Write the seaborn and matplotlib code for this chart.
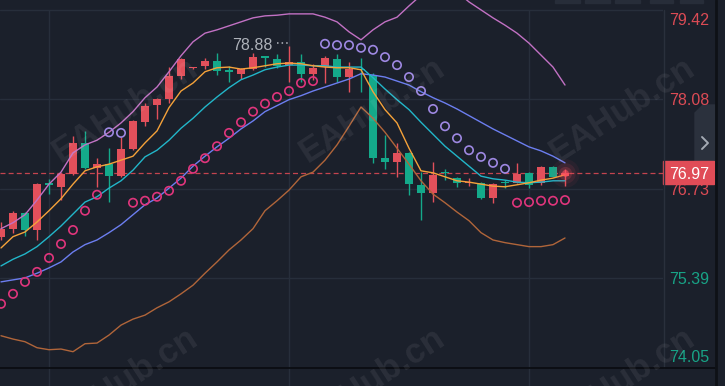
import numpy as np
import pandas as pd
import seaborn as sns
import matplotlib.pyplot as plt
import matplotlib.transforms as mtransforms
from matplotlib.patches import Rectangle, Polygon
from matplotlib.lines import Line2D

# candles, oldest first (red = up, green = down)
opens = [76.01, 76.13, 76.37, 76.11, 76.80, 76.76, 76.95, 77.42, 77.04, 77.10, 76.92, 77.33,
         77.74, 77.99, 78.08, 78.43, 78.54, 78.58, 78.65, 78.50, 78.46, 78.53, 78.71, 78.68,
         78.59, 78.64, 78.46, 78.56, 78.68, 78.41, 78.52, 78.44, 77.19, 77.13, 77.27, 76.79,
         76.67, 76.97, 76.89, 76.81, 76.82, 76.59, 76.82, 76.82, 76.97, 76.82, 77.06, 76.92]
highs = [76.23, 76.40, 76.38, 76.81, 76.88, 76.96, 77.52, 77.60, 77.19, 77.34, 77.51, 77.76,
         78.02, 78.09, 78.56, 78.69, 78.56, 78.70, 78.77, 78.58, 78.54, 78.77, 78.71, 78.76,
         78.88, 78.76, 78.61, 78.72, 78.76, 78.64, 78.70, 78.47, 77.54, 77.42, 77.28, 76.98,
         77.13, 77.03, 76.90, 76.89, 76.83, 76.81, 76.86, 77.12, 76.98, 77.07, 77.07, 77.02]
lows = [75.96, 76.07, 76.02, 75.96, 76.65, 76.56, 76.94, 77.03, 76.76, 76.53, 76.91, 77.32,
        77.67, 77.78, 78.02, 78.38, 78.53, 78.53, 78.44, 78.34, 78.38, 78.52, 78.56, 78.55,
        78.34, 78.34, 78.37, 78.32, 78.34, 78.19, 78.19, 77.12, 77.03, 76.91, 76.64, 76.26,
        76.53, 76.86, 76.76, 76.77, 76.58, 76.52, 76.74, 76.81, 76.74, 76.79, 76.90, 76.77]
closes = [76.13, 76.37, 76.11, 76.80, 76.79, 76.95, 77.42, 77.04, 77.10, 76.92, 77.33, 77.75,
          77.98, 78.08, 78.43, 78.68, 78.55, 78.65, 78.50, 78.49, 78.53, 78.71, 78.70, 78.58,
          78.64, 78.46, 78.55, 78.70, 78.41, 78.53, 78.51, 77.19, 77.13, 77.27, 76.80, 76.67,
          76.94, 76.96, 76.82, 76.82, 76.59, 76.80, 76.81, 76.95, 76.79, 77.06, 76.91, 76.97]

# indicator lines
ma_fast = [75.84, 76.01, 76.08, 76.23, 76.40, 76.58, 76.80, 77.00, 77.06, 77.10, 77.16, 77.22,
           77.42, 77.60, 77.95, 78.20, 78.32, 78.49, 78.55, 78.56, 78.53, 78.55, 78.58, 78.61,
           78.62, 78.61, 78.58, 78.56, 78.55, 78.55, 78.52, 78.19, 77.92, 77.72, 77.34, 77.00,
           76.97, 76.91, 76.85, 76.83, 76.80, 76.77, 76.76, 76.79, 76.82, 76.86, 76.89, 76.94]
ma_mid = [75.57, 75.67, 75.75, 75.86, 76.01, 76.17, 76.35, 76.53, 76.61, 76.74, 76.85, 77.01,
          77.21, 77.31, 77.46, 77.64, 77.79, 77.96, 78.11, 78.25, 78.37, 78.44, 78.52, 78.56,
          78.59, 78.59, 78.58, 78.58, 78.56, 78.56, 78.56, 78.40, 78.23, 78.07, 77.92, 77.73,
          77.55, 77.37, 77.22, 77.07, 76.92, 76.88, 76.86, 76.83, 76.82, 76.83, 76.85, 76.85]
ma_slow = [75.33, 75.36, 75.39, 75.46, 75.54, 75.63, 75.78, 75.89, 75.96, 76.07, 76.19, 76.34,
           76.49, 76.59, 76.74, 76.89, 77.07, 77.22, 77.36, 77.49, 77.63, 77.75, 77.89, 77.98,
           78.07, 78.13, 78.20, 78.26, 78.32, 78.38, 78.46, 78.44, 78.41, 78.35, 78.29, 78.19,
           78.10, 78.02, 77.93, 77.83, 77.73, 77.63, 77.54, 77.45, 77.36, 77.30, 77.22, 77.12]
band_upper = [76.13, 76.22, 76.34, 76.56, 76.80, 76.98, 77.27, 77.39, 77.46, 77.58, 77.72, 77.89,
              78.10, 78.26, 78.49, 78.73, 78.94, 79.07, 79.12, 79.18, 79.24, 79.30, 79.33, 79.34,
              79.36, 79.36, 79.36, 79.31, 79.24, 79.09, 78.97, 79.12, 79.24, 79.31, 79.48, 79.64,
              79.75, 79.75, 79.69, 79.54, 79.42, 79.30, 79.19, 79.07, 78.92, 78.74, 78.56, 78.29]
band_lower = [74.52, 74.47, 74.43, 74.34, 74.31, 74.32, 74.28, 74.40, 74.41, 74.53, 74.68, 74.77,
              74.83, 74.94, 75.03, 75.15, 75.28, 75.46, 75.63, 75.81, 75.96, 76.13, 76.40, 76.55,
              76.71, 76.91, 76.98, 77.16, 77.39, 77.67, 77.96, 77.79, 77.58, 77.34, 77.10, 76.85,
              76.65, 76.52, 76.38, 76.25, 76.07, 75.96, 75.92, 75.89, 75.86, 75.86, 75.89, 75.99]
sar = [75.00, 75.15, 75.33, 75.48, 75.69, 75.90, 76.11, 76.40, 76.64, 77.58, 77.57, 76.52,
       76.55, 76.61, 76.70, 76.85, 77.03, 77.19, 77.37, 77.57, 77.73, 77.89, 78.01, 78.11,
       78.20, 78.32, 78.35, 78.91, 78.89, 78.89, 78.85, 78.82, 78.71, 78.59, 78.41, 78.20,
       77.93, 77.67, 77.49, 77.31, 77.21, 77.12, 77.03, 76.52, 76.53, 76.55, 76.55, 76.56]

price_ticks = [79.42, 78.08, 76.73, 75.39, 74.05]
tick_colors = ['#dc4b55', '#dc4b55', '#dc4b55', '#18a386', '#18a386']
last_price = 76.97
high_label = '78.88'

BG = '#1b202b'
GRID = '#272e3b'
RED = '#e2505b'
GREEN = '#14a98a'

df = pd.DataFrame({'i': np.arange(len(closes)), 'open': opens, 'high': highs, 'low': lows,
                   'close': closes, 'fast': ma_fast, 'mid': ma_mid, 'slow': ma_slow,
                   'upper': band_upper, 'lower': band_lower, 'sar': sar})
df['up'] = df['close'] >= df['open']
df['color'] = np.where(df['up'], RED, GREEN)

sns.set_theme(style='dark', rc={'axes.facecolor': BG, 'figure.facecolor': BG})
plt.rcParams['font.family'] = ['Liberation Sans', 'DejaVu Sans']

W, H = 725, 386
fig = plt.figure(figsize=(W / 100, H / 100), dpi=100)
ax = fig.add_axes([0, 0, 663 / W, 1])
ax.set_facecolor(BG)

# pixel scale of the original: 12 px per candle, 66.5 px per price unit
ax.set_xlim(-1 / 12, 662 / 12)
ax.set_ylim(78.08 - 287 / 66.5, 78.08 + 99 / 66.5)
ax.set_xticks([])
ax.set_yticks([])
for s in ax.spines.values():
    s.set_visible(False)

# grid
for p in price_ticks[:-1]:
    ax.axhline(p, color=GRID, lw=1, zorder=0)
ax.vlines([4, 24, 44], ax.get_ylim()[0], price_ticks[0], color=GRID, lw=1, zorder=0)

# candles
body = (df['close'] - df['open']).abs().clip(lower=0.02)
bottom = df[['open', 'close']].min(axis=1)
ax.vlines(df['i'], df['low'], df['high'], colors=df['color'], lw=1, zorder=2)
ax.bar(df['i'], body, bottom=bottom, width=0.68, color=df['color'], lw=0, zorder=3)

# indicator lines
lines = [('upper', '#c271c4'), ('lower', '#b0653a'), ('slow', '#6c7ef0'),
         ('mid', '#22b6c9'), ('fast', '#f5a23a')]
for col, c in lines:
    sns.lineplot(data=df, x='i', y=col, color=c, lw=1.0, ax=ax, zorder=4)

# parabolic SAR
below = df[df['sar'] < df['close']]
above = df[df['sar'] >= df['close']]
sns.scatterplot(x=below['i'], y=below['sar'], ax=ax, marker='o', s=36, facecolor='none',
                edgecolor='#e0357c', linewidth=1.2, zorder=5)
sns.scatterplot(x=above['i'], y=above['sar'], ax=ax, marker='o', s=36, facecolor='none',
                edgecolor='#9e88e2', linewidth=1.2, zorder=5)
ax.set_xlabel('')
ax.set_ylabel('')

# last price line + glow on last candle
ax.axhline(last_price, color='#c4444f', lw=0.9, ls=(0, (4, 2.5)), zorder=1)
last_i = df['i'].iloc[-1]
for size, a in [(420, 0.06), (220, 0.1), (90, 0.2), (25, 0.6)]:
    ax.scatter([last_i], [df['close'].iloc[-1]], s=size, color='#ff4f60', alpha=a, lw=0, zorder=6)

# highest high label
hi = df['high'].idxmax()
ax.plot([hi - 1, hi], [df['high'].max() + 0.04] * 2, color='#b4b8c0', lw=1.1, ls=(0, (1, 2)), zorder=6)
ax.text(hi - 1.35, df['high'].max(), high_label, color='#aeb2ba', fontsize=11.5,
        ha='right', va='center', zorder=6)

# right price scale
trans = mtransforms.blended_transform_factory(ax.transAxes, ax.transData)
for k, (p, c) in enumerate(zip(price_ticks, tick_colors)):
    va = 'top' if k == 0 else ('bottom' if k == len(price_ticks) - 1 else 'center_baseline')
    off = -0.05 if k == 0 else (0.03 if k == len(price_ticks) - 1 else 0)
    ax.text(1 + 6 / 663, p + off, f'{p:.2f}', transform=trans, color=c, fontsize=11.5,
            ha='left', va=va, clip_on=False)

# scroll button on the right edge
fig.add_artist(Polygon([(695 / W, 1 - 113 / H), (703 / W, 1 - 105 / H), (715 / W, 1 - 105 / H),
                        (715 / W, 1 - 162 / H), (695 / W, 1 - 162 / H)],
                       closed=True, transform=fig.transFigure, color='#2b313d', zorder=-1))
fig.add_artist(Line2D([702 / W, 708 / W, 702 / W], [1 - 137 / H, 1 - 143 / H, 1 - 149 / H],
                      transform=fig.transFigure, color='#a4aab4', lw=1.4, zorder=-1))

# current price tag
tag_tr = mtransforms.blended_transform_factory(fig.transFigure, ax.transData)
ax.add_patch(Rectangle((663 / W, last_price - 0.173), 51 / W, 0.346, transform=tag_tr,
                       color='#e04c57', clip_on=False, zorder=7))
ax.text(689 / W, last_price, f'{last_price:.2f}', transform=tag_tr, color='white',
        fontsize=11.5, ha='center', va='center_baseline', clip_on=False, zorder=8)

# frame lines and top buttons
fig.add_artist(Line2D([663.5 / W] * 2, [1 - 10 / H, 1 - 368 / H], transform=fig.transFigure,
                      color='#2a303c', lw=1))
fig.add_artist(Line2D([0, 715 / W], [1 - 368 / H] * 2, transform=fig.transFigure,
                      color='#0b0d12', lw=1.3))
fig.add_artist(Line2D([715.5 / W] * 2, [0, 1], transform=fig.transFigure, color='#0e1116', lw=2))
for x0, x1 in [(555, 580), (585, 610), (615, 640), (650, 673), (680, 703)]:
    fig.add_artist(Rectangle((x0 / W, 1 - 3 / H), (x1 - x0) / W, 3 / H,
                             transform=fig.transFigure, color='#272d39'))

# watermarks
for cx in [125, 372, 622]:
    for cy in [110, 380]:
        fig.text(cx / W, 1 - cy / H, 'EAHub.cn', fontsize=25, fontweight='bold', color='white',
                 alpha=0.07, rotation=33, ha='center', va='center', rotation_mode='anchor')

fig.savefig('out.png', dpi=100, facecolor=BG)
